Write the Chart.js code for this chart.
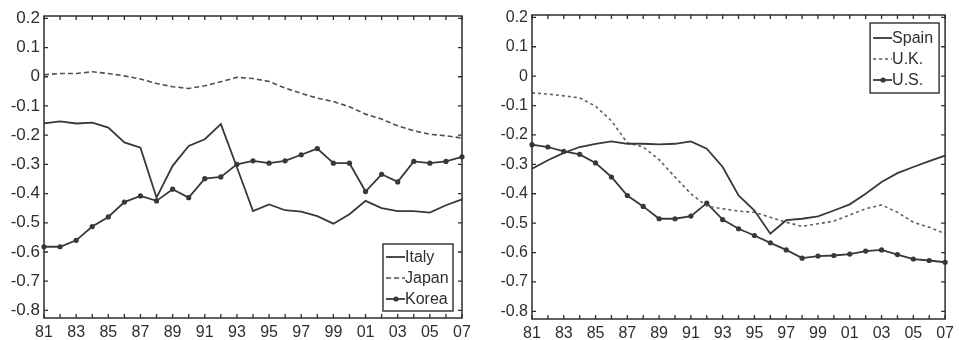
<!DOCTYPE html>
<html>
<head>
<meta charset="utf-8">
<script src="https://cdn.jsdelivr.net/npm/chart.js@4/dist/chart.umd.min.js"></script>
<style>
  body { margin: 0; background: #fff; }
  #wrap { position: relative; width: 959px; height: 340px; }
  canvas { position: absolute; top: 0; }
  #leftChart { left: 0; }
  #rightChart { left: 480px; }
</style>
</head>
<body>
<div id="wrap">
  <canvas id="leftChart" width="480" height="340"></canvas>
  <canvas id="rightChart" width="479" height="340"></canvas>
</div>
<script>
// years 1981..2007, shown as two digits
const years = ['81','82','83','84','85','86','87','88','89','90','91','92','93','94',
               '95','96','97','98','99','00','01','02','03','04','05','06','07'];
const yTicks = [0.2, 0.1, 0, -0.1, -0.2, -0.3, -0.4, -0.5, -0.6, -0.7, -0.8];

// left panel
const italy = [-0.16, -0.153, -0.16, -0.157, -0.174, -0.225, -0.243, -0.414, -0.305, -0.237,
               -0.214, -0.162, -0.31, -0.46, -0.437, -0.457, -0.462, -0.477, -0.503, -0.471,
               -0.425, -0.45, -0.46, -0.46, -0.465, -0.44, -0.42];
const japan = [0.007, 0.011, 0.011, 0.017, 0.011, 0.003, -0.008, -0.023, -0.034, -0.04,
               -0.031, -0.017, -0.002, -0.006, -0.016, -0.039, -0.057, -0.073, -0.085, -0.103,
               -0.128, -0.145, -0.168, -0.185, -0.197, -0.202, -0.21];
const korea = [-0.582, -0.582, -0.56, -0.513, -0.48, -0.429, -0.408, -0.425, -0.385, -0.414,
               -0.349, -0.343, -0.3, -0.288, -0.296, -0.288, -0.267, -0.246, -0.296, -0.296,
               -0.393, -0.334, -0.36, -0.29, -0.296, -0.29, -0.274];

// right panel
const spain = [-0.315, -0.286, -0.261, -0.241, -0.23, -0.222, -0.23, -0.23, -0.232, -0.23,
               -0.222, -0.247, -0.309, -0.406, -0.457, -0.536, -0.49, -0.485, -0.477, -0.457,
               -0.436, -0.4, -0.36, -0.33, -0.309, -0.289, -0.27];
const uk = [-0.057, -0.061, -0.067, -0.074, -0.102, -0.152, -0.227, -0.241, -0.284, -0.343,
            -0.4, -0.442, -0.451, -0.459, -0.463, -0.48, -0.497, -0.511, -0.502, -0.493,
            -0.472, -0.451, -0.438, -0.463, -0.497, -0.514, -0.536];
const us = [-0.233, -0.241, -0.256, -0.266, -0.295, -0.343, -0.406, -0.443, -0.485, -0.485,
            -0.476, -0.432, -0.488, -0.519, -0.542, -0.567, -0.591, -0.619, -0.612, -0.61,
            -0.605, -0.595, -0.591, -0.607, -0.622, -0.627, -0.633];

const FONT = "'Liberation Sans', Arial, sans-serif";
const INK = '#2e2e2e';

function solid(label, data) {
  return { label, data, borderColor: '#383838', borderWidth: 1.8, pointRadius: 0, tension: 0 };
}
function dashed(label, data, dash, color) {
  return { label, data, borderColor: color, borderWidth: 1.6, borderDash: dash, pointRadius: 0, tension: 0 };
}
function marked(label, data) {
  return { label, data, borderColor: '#383838', borderWidth: 1.8, tension: 0,
           pointRadius: 2.6, pointBackgroundColor: '#383838', pointBorderColor: '#383838', pointBorderWidth: 0 };
}

// box frame, inward tick marks and the legend box (matlab style)
const framePlugin = {
  id: 'frame',
  afterDraw(chart, args, opts) {
    const ctx = chart.ctx;
    const a = chart.chartArea;
    const xs = chart.scales.x, ys = chart.scales.y;
    ctx.save();
    ctx.strokeStyle = INK;
    ctx.lineWidth = 1.5;
    ctx.strokeRect(a.left, a.top, a.right - a.left, a.bottom - a.top);
    ctx.lineWidth = 1.3;
    ctx.beginPath();
    xs.ticks.forEach((t, i) => {
      const px = xs.getPixelForTick(i);
      ctx.moveTo(px, a.bottom); ctx.lineTo(px, a.bottom - 4);
      ctx.moveTo(px, a.top); ctx.lineTo(px, a.top + 4);
    });
    ys.ticks.forEach(t => {
      const py = ys.getPixelForValue(t.value);
      ctx.moveTo(a.left, py); ctx.lineTo(a.left + 4, py);
      ctx.moveTo(a.right, py); ctx.lineTo(a.right - 4, py);
    });
    ctx.stroke();

    // legend
    const w = opts.w, h = opts.h;
    const bx = a.right - opts.dx - w;
    const by = opts.anchor === 'bottom' ? a.bottom - opts.dy - h : a.top + opts.dy;
    ctx.fillStyle = '#fff';
    ctx.fillRect(bx, by, w, h);
    ctx.lineWidth = 1.4;
    ctx.strokeStyle = INK;
    ctx.strokeRect(bx, by, w, h);
    ctx.font = '16px ' + FONT;
    ctx.textBaseline = 'middle';
    chart.data.datasets.forEach((ds, i) => {
      const cy = by + opts.first + i * opts.step;
      ctx.strokeStyle = ds.borderColor;
      ctx.lineWidth = ds.borderWidth;
      ctx.setLineDash(ds.borderDash || []);
      ctx.beginPath();
      ctx.moveTo(bx + 3, cy); ctx.lineTo(bx + 22, cy);
      ctx.stroke();
      ctx.setLineDash([]);
      if (ds.pointRadius > 0) {
        ctx.fillStyle = ds.borderColor;
        ctx.beginPath();
        ctx.arc(bx + 13, cy, ds.pointRadius, 0, Math.PI * 2);
        ctx.fill();
      }
      ctx.fillStyle = INK;
      ctx.fillText(ds.label, bx + 22, cy + 1);
    });
    ctx.restore();
  }
};

function makeChart(id, datasets, lay) {
  return new Chart(document.getElementById(id), {
    type: 'line',
    data: { labels: years, datasets },
    options: {
      responsive: false,
      animation: false,
      layout: { padding: { top: lay.top, right: lay.right, left: 0, bottom: 0 } },
      plugins: {
        legend: { display: false },
        tooltip: { enabled: false },
        frame: lay.legend
      },
      scales: {
        x: {
          type: 'category',
          offset: false,
          grid: { display: false, drawTicks: false },
          border: { display: false },
          ticks: {
            autoSkip: false, maxRotation: 0, padding: 5,
            color: INK, font: { family: FONT, size: 16 },
            callback: (v, i) => (i % 2 === 0 ? years[i] : '')
          },
          afterFit: s => { s.height = lay.xh; }
        },
        y: {
          min: -0.826, max: 0.208,
          grid: { display: false, drawTicks: false },
          border: { display: false },
          afterBuildTicks: s => { s.ticks = yTicks.map(v => ({ value: v })); },
          ticks: {
            padding: 4, color: INK, font: { family: FONT, size: lay.yfont },
            callback: v => String(Math.round(v * 10) / 10)
          },
          afterFit: s => { s.width = lay.yw; }
        }
      }
    },
    plugins: [framePlugin]
  });
}

makeChart('leftChart',
  [solid('Italy', italy), dashed('Japan', japan, [5, 3], '#505050'), marked('Korea', korea)],
  { top: 16, right: 18, xh: 22, yw: 44, yfont: 17,
    legend: { anchor: 'bottom', dx: 9, dy: 7, w: 70, h: 67, first: 13, step: 21 } });

makeChart('rightChart',
  [solid('Spain', spain), dashed('U.K.', uk, [3, 3], '#606060'), marked('U.S.', us)],
  { top: 15, right: 11, xh: 21, yw: 52, yfont: 16,
    legend: { anchor: 'top', dx: 6, dy: 8, w: 69, h: 70, first: 15, step: 21 } });
</script>
</body>
</html>
